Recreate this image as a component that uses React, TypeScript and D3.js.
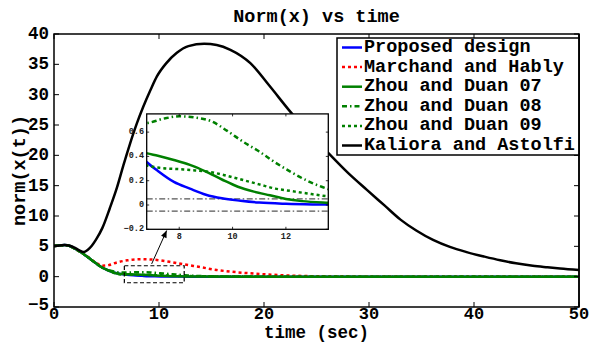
import * as d3 from 'd3';

// time (sec) / norm values
const proposedT = [0, 0.5, 1, 1.5, 2, 2.5, 3, 3.5, 4, 4.5, 5, 5.5, 6, 6.4, 6.8, 7.2, 7.8, 8.4, 9, 9.6, 10.3, 11, 12, 13, 14, 16, 20, 30, 50];
const proposedV = [5.05, 5.15, 5.2, 5.05, 4.6, 4.1, 3.5, 2.85, 2.2, 1.6, 1.15, 0.8, 0.55, 0.44, 0.35, 0.28, 0.19, 0.135, 0.085, 0.055, 0.035, 0.02, 0.01, 0.005, 0.003, 0.001, 0, 0, 0];

const marchandT = [0, 0.5, 1, 1.5, 2, 2.5, 3, 3.5, 4, 4.6, 5.2, 6, 7, 8.3, 9.5, 11, 12.3, 14, 15.5, 17, 18.7, 20, 22, 24, 26, 28, 30, 50];
const marchandV = [5.05, 5.15, 5.2, 5.05, 4.6, 4.1, 3.55, 2.9, 2.3, 1.8, 1.9, 2.35, 2.7, 2.87, 2.8, 2.45, 2.05, 1.55, 1.1, 0.8, 0.55, 0.4, 0.22, 0.1, 0.04, 0.01, 0, 0];

const zhou07T = [0, 0.5, 1, 1.5, 2, 2.5, 3, 3.5, 4, 4.5, 5, 5.5, 6, 6.4, 6.8, 7.2, 7.8, 8.4, 9, 9.6, 10.2, 10.8, 11.4, 12, 12.6, 13.6, 15, 18, 25, 50];
const zhou07V = [5.05, 5.15, 5.2, 5.05, 4.6, 4.1, 3.5, 2.85, 2.2, 1.6, 1.15, 0.8, 0.52, 0.45, 0.425, 0.405, 0.37, 0.33, 0.275, 0.21, 0.15, 0.11, 0.08, 0.05, 0.032, 0.019, 0.01, 0.003, 0, 0];

const zhou08T = [0, 0.5, 1, 1.5, 2, 2.5, 3, 3.5, 4, 4.5, 5, 5.5, 6, 6.4, 6.8, 7.4, 8, 8.6, 9.2, 9.8, 10.4, 11, 11.6, 12.2, 12.8, 13.6, 15, 17, 20, 25, 50];
const zhou08V = [5.05, 5.15, 5.2, 5.05, 4.6, 4.1, 3.5, 2.85, 2.2, 1.6, 1.2, 0.95, 0.74, 0.67, 0.675, 0.71, 0.73, 0.72, 0.69, 0.61, 0.52, 0.44, 0.35, 0.27, 0.2, 0.13, 0.06, 0.02, 0.005, 0, 0];

const zhou09T = [0, 0.5, 1, 1.5, 2, 2.5, 3, 3.5, 4, 4.5, 5, 5.5, 6, 6.4, 6.8, 7.3, 8, 8.6, 9.2, 9.8, 10.4, 11, 11.6, 12.2, 12.8, 13.6, 15, 17, 20, 25, 30, 50];
const zhou09V = [5.05, 5.15, 5.2, 5.05, 4.6, 4.1, 3.5, 2.85, 2.2, 1.6, 1.15, 0.78, 0.45, 0.36, 0.325, 0.305, 0.295, 0.285, 0.27, 0.24, 0.205, 0.17, 0.135, 0.115, 0.095, 0.07, 0.04, 0.02, 0.008, 0.002, 0, 0];

const kalioraT = [0, 0.5, 1, 1.5, 2, 2.4, 2.8, 3.2, 3.6, 4.0, 4.6, 5.3, 6.0, 6.6, 7.2, 7.9, 8.5, 9.2, 9.8, 10.7, 11.7, 12.8, 14.3, 15.5, 16.8, 18.7, 20.5, 22.5, 24.2, 26, 28, 29.8, 31.5, 33, 34.5, 36.1, 37.7, 39.3, 41, 42.5, 44, 45.6, 47, 48.2, 50];
const kalioraV = [5.05, 5.15, 5.2, 5.1, 4.75, 4.35, 4.05, 4.4, 5.1, 6.1, 8.0, 11.2, 14.7, 18.3, 21.7, 25.3, 28, 30.8, 33, 35.2, 36.9, 38, 38.4, 38.2, 37.4, 35.2, 31.5, 27.2, 23.8, 20.6, 17.1, 14.3, 11.7, 9.4, 7.6, 6.05, 4.9, 4.05, 3.3, 2.7, 2.2, 1.8, 1.55, 1.35, 1.1];

const legendLabels = ['Proposed design', 'Marchand and Hably', 'Zhou and Duan 07', 'Zhou and Duan 08', 'Zhou and Duan 09', 'Kaliora and Astolfi'];

const xTicks = [0, 10, 20, 30, 40, 50];
const yTicks = [-5, 0, 5, 10, 15, 20, 25, 30, 35, 40];
const insetXTicks = [8, 10, 12];
const insetYTicks = [-0.2, 0, 0.2, 0.4, 0.6];
const insetBands = [0.05, -0.05];

// zoom box and arrow, in data units
const zoomBox = { t0: 6.7, t1: 12.4, v0: -1, v1: 1.8 };
const arrow = { t0: 9.3, v0: 2.1, t1: 10.73, v1: 7.6 };

const series = [
  { t: proposedT, v: proposedV, color: '#0000ff', dash: null },
  { t: marchandT, v: marchandV, color: '#ff0000', dash: '3,3' },
  { t: zhou07T, v: zhou07V, color: '#008000', dash: null },
  { t: zhou08T, v: zhou08V, color: '#008000', dash: '5,3,1.5,3' },
  { t: zhou09T, v: zhou09V, color: '#008000', dash: '3,3' },
  { t: kalioraT, v: kalioraV, color: '#000000', dash: null },
];

const FONT = "'Liberation Mono', 'Courier New', monospace";

export default function App() {
  const W = 590, H = 343;
  const x = d3.scaleLinear().domain([0, 50]).range([54, 579]);
  const y = d3.scaleLinear().domain([-5, 40]).range([307, 34]);

  const ix = d3.scaleLinear().domain([6.78, 13.59]).range([146.7, 328.3]);
  const iy = d3.scaleLinear().domain([-0.2, 0.75]).range([229.3, 113.9]);

  const mainLine = d3.line<[number, number]>().x(d => x(d[0])).y(d => y(d[1])).curve(d3.curveMonotoneX);
  const insetLine = d3.line<[number, number]>().x(d => ix(d[0])).y(d => iy(d[1])).curve(d3.curveMonotoneX);

  const pts = (s: typeof series[0]) => s.t.map((t, i) => [t, s.v[i]] as [number, number]);

  const [x0, x1] = x.range();
  const [y0, y1] = [y(40), y(-5)];
  const [ax0, ax1] = ix.range();
  const [ay1, ay0] = iy.range();

  const lgX = 337, lgY = 38, lgW = 242, lgH = 117, rowH = 19.6;

  const ax = x(arrow.t1) - x(arrow.t0), ay = y(arrow.v1) - y(arrow.v0);
  const ang = Math.atan2(ay, ax) * 180 / Math.PI;

  return (
    <div style={{ position: 'absolute', left: 0, top: 0 }}>
      <svg width={W} height={H} style={{ display: 'block', background: '#fff' }} fontFamily={FONT} fontWeight="bold">
        <defs>
          <clipPath id="main-clip"><rect x={x0} y={y0} width={x1 - x0} height={y1 - y0} /></clipPath>
          <clipPath id="inset-clip"><rect x={ax0} y={ay0} width={ax1 - ax0} height={ay1 - ay0} /></clipPath>
          <clipPath id="legend-clip"><rect x={lgX} y={lgY} width={lgW} height={lgH} /></clipPath>
        </defs>
        <rect x={0} y={0} width={W} height={H} fill="#fff" />

        <text x={(x0 + x1) / 2} y={17} textAnchor="middle" dominantBaseline="central" fontSize={18.5}>Norm(x) vs time</text>

        {/* curves */}
        <g clipPath="url(#main-clip)">
          {series.map((s, i) => (
            <path key={i} d={mainLine(pts(s)) || ''} fill="none" stroke={s.color} strokeWidth={2.5}
              strokeDasharray={s.dash || undefined} />
          ))}
        </g>

        {/* zoom box + arrow */}
        <rect x={x(zoomBox.t0)} y={y(zoomBox.v1)} width={x(zoomBox.t1) - x(zoomBox.t0)} height={y(zoomBox.v0) - y(zoomBox.v1)}
          fill="none" stroke="#000" strokeWidth={1.2} strokeDasharray="4,2.5" />
        <line x1={x(arrow.t0)} y1={y(arrow.v0)} x2={x(arrow.t1)} y2={y(arrow.v1)} stroke="#000" strokeWidth={1} />
        <path d="M0,0 L-7,-3 L-7,3 Z" fill="#000" transform={`translate(${x(arrow.t1)},${y(arrow.v1)}) rotate(${ang})`} />

        {/* main axes box + ticks */}
        <rect x={x0} y={y0} width={x1 - x0} height={y1 - y0} fill="none" stroke="#000" strokeWidth={1.5} />
        {xTicks.map(t => (
          <g key={'xt' + t}>
            <line x1={x(t)} x2={x(t)} y1={y1} y2={y1 - 5} stroke="#000" strokeWidth={1} />
            <line x1={x(t)} x2={x(t)} y1={y0} y2={y0 + 5} stroke="#000" strokeWidth={1} />
            <text x={x(t)} y={314} textAnchor="middle" dominantBaseline="central" fontSize={17}>{t}</text>
          </g>
        ))}
        {yTicks.map(v => (
          <g key={'yt' + v}>
            <line x1={x0} x2={x0 + 5} y1={y(v)} y2={y(v)} stroke="#000" strokeWidth={1} />
            <line x1={x1} x2={x1 - 5} y1={y(v)} y2={y(v)} stroke="#000" strokeWidth={1} />
            <text x={49} y={v === -5 ? y(v) - 2 : y(v)} textAnchor="end" dominantBaseline="central" fontSize={17.5}>{v < 0 ? '−' + Math.abs(v) : v}</text>
          </g>
        ))}
        <text x={(x0 + x1) / 2} y={333} textAnchor="middle" dominantBaseline="central" fontSize={17.5}>time (sec)</text>
        <text transform={`translate(20,${(y0 + y1) / 2}) rotate(-90)`} textAnchor="middle" dominantBaseline="central" fontSize={18.5}>norm(x(t))</text>

        {/* inset */}
        <rect x={ax0} y={ay0} width={ax1 - ax0} height={ay1 - ay0} fill="#fff" />
        <g clipPath="url(#inset-clip)">
          {insetBands.map(b => (
            <line key={'b' + b} x1={ax0} x2={ax1} y1={iy(b)} y2={iy(b)} stroke="#555" strokeWidth={1.3} strokeDasharray="6,2.5,1.5,2.5" />
          ))}
          {series.map((s, i) => (
            <path key={i} d={insetLine(pts(s)) || ''} fill="none" stroke={s.color} strokeWidth={2.5}
              strokeDasharray={s.dash || undefined} />
          ))}
        </g>
        <rect x={ax0} y={ay0} width={ax1 - ax0} height={ay1 - ay0} fill="none" stroke="#000" strokeWidth={1.3} />
        {insetXTicks.map(t => (
          <g key={'ixt' + t}>
            <line x1={ix(t)} x2={ix(t)} y1={ay1} y2={ay1 - 2.5} stroke="#000" strokeWidth={0.8} />
            <line x1={ix(t)} x2={ix(t)} y1={ay0} y2={ay0 + 2.5} stroke="#000" strokeWidth={0.8} />
            <text x={ix(t)} y={237} textAnchor="middle" dominantBaseline="central" fontSize={8.5} fill="#222">{t}</text>
          </g>
        ))}
        {insetYTicks.map(v => (
          <g key={'iyt' + v}>
            <line x1={ax0} x2={ax0 + 2.5} y1={iy(v)} y2={iy(v)} stroke="#000" strokeWidth={0.8} />
            <line x1={ax1} x2={ax1 - 2.5} y1={iy(v)} y2={iy(v)} stroke="#000" strokeWidth={0.8} />
            <text x={144} y={iy(v)} textAnchor="end" dominantBaseline="central" fontSize={8.5} fill="#222">{v < 0 ? '−' + Math.abs(v) : v}</text>
          </g>
        ))}

        {/* legend */}
        <rect x={lgX} y={lgY} width={lgW} height={lgH} fill="#fff" stroke="#000" strokeWidth={1.5} />
        <g clipPath="url(#legend-clip)">
          {legendLabels.map((lab, i) => {
            const cy = lgY + 9.5 + i * rowH;
            const s = series[i];
            return (
              <g key={lab}>
                <line x1={lgX + 5} x2={lgX + 25} y1={cy} y2={cy} stroke={s.color} strokeWidth={2.5} strokeDasharray={s.dash || undefined} />
                <text x={lgX + 27} y={cy} dominantBaseline="central" fontSize={18.5}>{lab}</text>
              </g>
            );
          })}
        </g>
        <line x1={x1} x2={x1} y1={y0} y2={y1} stroke="#000" strokeWidth={1.5} />
      </svg>
    </div>
  );
}
